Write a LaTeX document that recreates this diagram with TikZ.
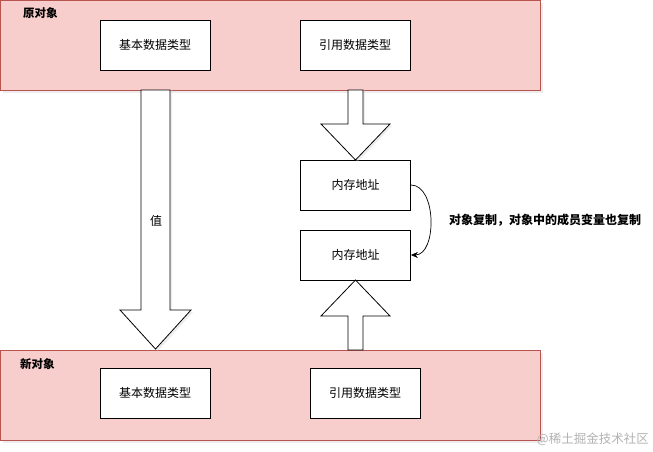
\documentclass[tikz,border=0pt]{standalone}
\usepackage{fontspec}
\setmainfont{Noto Sans CJK SC}
\usetikzlibrary{arrows.meta}
\definecolor{cfill}{HTML}{F8CECC}
\definecolor{cdraw}{HTML}{B85450}
\begin{document}
\begin{tikzpicture}[x=1pt,y=-1pt,
  container/.style={draw=cdraw,fill=cfill,line width=0.8pt},
  shadowed/.style={fill=black!20,draw=none,opacity=0.35},
  box/.style={draw=black,fill=white,line width=0.8pt,minimum width=110pt,minimum height=50pt,inner sep=0pt,font=\fontsize{12}{14}\selectfont},
  title/.style={font=\fontsize{11.5}{13}\selectfont\bfseries,anchor=west,inner sep=0pt},
  blockarrow/.style={draw=black,fill=white,line width=0.8pt,line join=miter},
  txt/.style={font=\fontsize{12}{14}\selectfont,inner sep=0pt}
]
\useasboundingbox (0,0) rectangle (653,452);
% shadows
\fill[shadowed] (2.5,3) rectangle (542.5,93);
\fill[shadowed] (2.5,353) rectangle (542.5,443);
% containers
\draw[container] (0.5,0.5) rectangle (540,90);
\draw[container] (0.5,350) rectangle (540,440);
\node[title] (t1) at (23,13) {原对象};
\node[title] (t2) at (20,364) {新对象};
% boxes
\node[box] (b1) at (155,45) {基本数据类型};
\node[box] (r1) at (355,45) {引用数据类型};
\node[box] (b2) at (155,393) {基本数据类型};
\node[box] (r2) at (365,393) {引用数据类型};
\node[box] (m1) at (355.5,185) {内存地址};
\node[box] (m2) at (355.5,255) {内存地址};
% left big arrow
\fill[shadowed] (143,90) -- (172,90) -- (172,312) -- (193,312) -- (158,351) -- (122,312) -- (143,312) -- cycle;
\draw[blockarrow] (141,90) -- (170,90) -- (170,310) -- (191,310) -- (155.5,349) -- (120,310) -- (141,310) -- cycle;
\node[txt] (v) at (156,221) {值};
% top right arrow (down)
\fill[shadowed] (350,90) -- (365,90) -- (365,126) -- (392,126) -- (357.5,162) -- (323,126) -- (350,126) -- cycle;
\draw[blockarrow] (348,90) -- (363,90) -- (363,124) -- (390,124) -- (355.5,160) -- (321,124) -- (348,124) -- cycle;
% bottom right arrow (up)
\draw[blockarrow] (348,350) -- (363,350) -- (363,316) -- (390,316) -- (355.5,280) -- (321,316) -- (348,316) -- cycle;
% curved connector
\draw[line width=0.7pt,-{Stealth[length=7pt,width=6pt]}] (m1.east) .. controls (437,185) and (437,255) .. (m2.east);
\node[txt,font=\fontsize{12}{14}\selectfont\bfseries,anchor=west] (lab) at (449,220) {对象复制，对象中的成员变量也复制};
% watermark
\node[txt,anchor=east,text=black!30,font=\fontsize{12.5}{14}\selectfont] (wm) at (649,439) {@稀土掘金技术社区};
\end{tikzpicture}
\end{document}
